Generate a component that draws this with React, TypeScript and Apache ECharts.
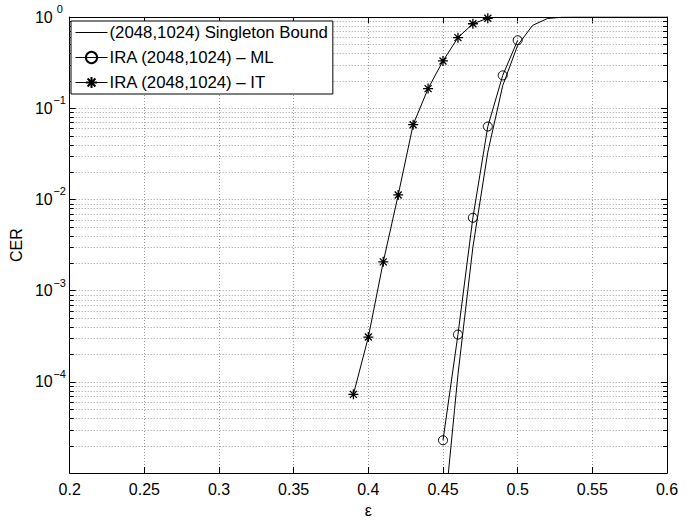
import React, { useEffect, useRef } from 'react';
import * as echarts from 'echarts';

// ---- data ----
const singletonX = [0.45, 0.46, 0.47, 0.48, 0.49, 0.5, 0.51, 0.52, 0.53, 0.54, 0.55, 0.56, 0.57, 0.58, 0.59, 0.6];
const singletonY = [2.5e-6, 1.2e-4, 3.0e-3, 3.3e-2, 0.177, 0.49, 0.81, 0.963, 0.996, 1, 1, 1, 1, 1, 1, 1];

const mlX = [0.45, 0.46, 0.47, 0.48, 0.49, 0.5];
const mlY = [2.29e-5, 3.3e-4, 6.3e-3, 6.3e-2, 0.229, 0.556];

const itX = [0.39, 0.4, 0.41, 0.42, 0.43, 0.44, 0.45, 0.46, 0.47, 0.48];
const itY = [7.3e-5, 3.1e-4, 2.07e-3, 1.12e-2, 6.6e-2, 0.164, 0.33, 0.594, 0.843, 0.969];

const seriesNames = [
  '(2048,1024) Singleton Bound',
  'IRA (2048,1024) – ML',
  'IRA (2048,1024) – IT',
];

// axis settings
const xMin = 0.2;
const xMax = 0.6;
const xStep = 0.05;
const yMin = 1e-5;
const yMax = 1;
const decades = [-5, -4, -3, -2, -1];
const minorMultipliers = [2, 3, 4, 5, 6, 7, 8, 9];

const FONT = "'Liberation Sans', Arial, Helvetica, sans-serif";

export default function App() {
  const ref = useRef<HTMLDivElement>(null);

  useEffect(() => {
    if (!ref.current) return;
    const chart = echarts.init(ref.current, null, { renderer: 'svg' });

    const minorVals: number[] = [];
    decades.forEach((d) => minorMultipliers.forEach((m) => minorVals.push(m * Math.pow(10, d))));

    const gridColor = '#9a9a9a';
    const gridLine = { color: gridColor, type: [1, 2] as any, width: 1 };
    const axisLine = { show: true, onZero: false, lineStyle: { color: '#000', width: 1 } };
    const tick = { show: true, inside: true, length: 6, lineStyle: { color: '#000', width: 1 } };

    const option: any = {
      animation: false,
      backgroundColor: '#fff',
      textStyle: { fontFamily: FONT },
      grid: { left: 68, right: 32, top: 17, bottom: 35, containLabel: false },
      legend: {
        data: seriesNames,
        orient: 'vertical',
        left: 71,
        top: 21,
        padding: [3, 5, 3, 4],
        itemWidth: 32,
        itemHeight: 14,
        itemGap: 8,
        backgroundColor: '#fff',
        borderColor: '#000',
        borderWidth: 1,
        borderRadius: 0,
        selectedMode: false,
        lineStyle: { width: 1, color: '#000' },
        textStyle: { fontSize: 16.8, color: '#000', fontFamily: FONT, padding: [0, 0, 0, -3] },
      },
      xAxis: [
        {
          type: 'value',
          min: xMin,
          max: xMax,
          interval: xStep,
          name: 'ε',
          nameLocation: 'middle',
          nameGap: 21,
          nameTextStyle: { fontSize: 16, color: '#000', fontFamily: FONT },
          axisLine,
          axisTick: tick,
          axisLabel: { color: '#000', fontSize: 16, fontFamily: FONT, margin: 8 },
          splitLine: { show: true, lineStyle: gridLine },
        },
        {
          type: 'value',
          position: 'top',
          min: xMin,
          max: xMax,
          interval: xStep,
          axisLine,
          axisTick: tick,
          axisLabel: { show: false },
          splitLine: { show: false },
        },
      ],
      yAxis: [
        {
          type: 'log',
          logBase: 10,
          min: yMin,
          max: yMax,
          splitNumber: 5,
          name: 'CER',
          nameLocation: 'middle',
          nameGap: 43,
          nameRotate: 90,
          nameTextStyle: { fontSize: 16, color: '#000', fontFamily: FONT },
          axisLine,
          axisTick: tick,
          axisLabel: {
            showMinLabel: false,
            margin: 3,
            formatter: (v: number) => {
              const e = Math.round(Math.log10(v));
              return `{b|10}{s|${e === 0 ? '0' : '−' + -e}}`;
            },
            rich: {
              b: { fontSize: 16, fontFamily: FONT, color: '#000', lineHeight: 18 },
              s: {
                fontSize: 11,
                fontFamily: FONT,
                color: '#000',
                lineHeight: 12,
                padding: [0, 0, 16, 0],
                width: 14,
                align: 'left',
              },
            },
          },
          splitLine: { show: true, lineStyle: gridLine },
        },
        {
          type: 'log',
          logBase: 10,
          min: yMin,
          max: yMax,
          splitNumber: 5,
          position: 'right',
          axisLine,
          axisTick: tick,
          axisLabel: { show: false },
          splitLine: { show: false },
        },
      ],
      series: [
        {
          // minor grid lines and minor ticks at 2..9 x 10^k, placed through the log axis
          type: 'custom',
          silent: true,
          z: 1,
          clip: false,
          encode: { x: 0, y: 1 },
          data: minorVals.map((v) => [xMin, v]),
          renderItem: (params: any, api: any) => {
            const v = api.value(1);
            const p0 = api.coord([xMin, v]);
            const p1 = api.coord([xMax, v]);
            const y = Math.round(p0[1]) + 0.5;
            return {
              type: 'group',
              children: [
                {
                  type: 'line',
                  shape: { x1: p0[0], y1: y, x2: p1[0], y2: y },
                  style: { stroke: gridColor, lineWidth: 1, lineDash: [1, 2] },
                },
                {
                  type: 'line',
                  shape: { x1: p0[0], y1: y, x2: p0[0] + 4, y2: y },
                  style: { stroke: '#000', lineWidth: 1 },
                },
                {
                  type: 'line',
                  shape: { x1: p1[0] - 4, y1: y, x2: p1[0], y2: y },
                  style: { stroke: '#000', lineWidth: 1 },
                },
              ],
            };
          },
        },
        {
          name: seriesNames[0],
          type: 'line',
          data: singletonX.map((x, i) => [x, singletonY[i]]),
          symbol: 'circle',
          symbolSize: 1,
          showSymbol: false,
          clip: true,
          lineStyle: { color: '#000', width: 1 },
          itemStyle: { color: 'rgba(0,0,0,0)', borderWidth: 0 },
          z: 3,
        },
        {
          name: seriesNames[1],
          type: 'line',
          data: mlX.map((x, i) => [x, mlY[i]]),
          symbol: 'circle',
          symbolSize: 9,
          clip: true,
          lineStyle: { color: '#000', width: 1 },
          itemStyle: { color: 'rgba(0,0,0,0)', borderColor: '#000', borderWidth: 1 },
          z: 3,
        },
        {
          name: seriesNames[2],
          type: 'line',
          data: itX.map((x, i) => [x, itY[i]]),
          symbol: 'path://M5,0L5,10M0,5L10,5M1.5,1.5L8.5,8.5M8.5,1.5L1.5,8.5',
          symbolSize: 10,
          clip: true,
          lineStyle: { color: '#000', width: 1 },
          itemStyle: { color: '#000', borderColor: '#000', borderWidth: 1.3 },
          z: 3,
        },
      ],
    };

    chart.setOption(option);
    return () => chart.dispose();
  }, []);

  return (
    <div
      ref={ref}
      style={{ position: 'fixed', left: 0, top: 0, width: 699, height: 523, background: '#fff' }}
    />
  );
}
